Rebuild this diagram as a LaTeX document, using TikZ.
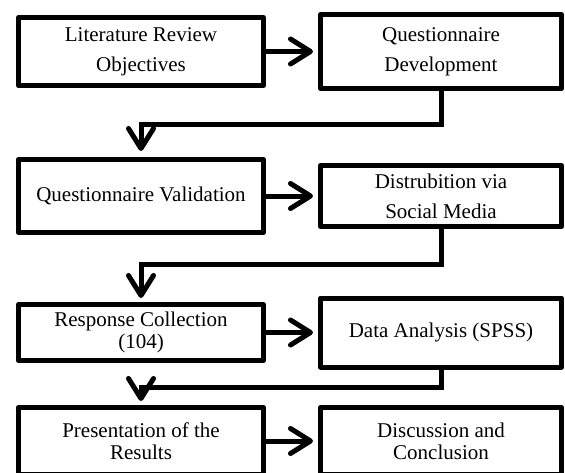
\documentclass[tikz,border=0pt]{standalone}
\usepackage{fontspec}
\setmainfont{Liberation Serif}
\usetikzlibrary{
arrows.meta,
calc,
positioning
}
\tikzset{>={Straight Barb[length=20pt,width=25pt,round]}}

\begin{document}
\begin{tikzpicture}[x=1pt, y=1pt, line width=5pt, node distance=52pt, font=\fontsize{21}{30}\selectfont,
	stage/.style={draw, line join=round, align=center, inner sep=2pt},
	leftstage/.style={stage, minimum width=245pt},
	rightstage/.style={stage, minimum width=241pt},
	tight/.style={font=\fontsize{21}{22}\selectfont}]
		\useasboundingbox (0,0) rectangle (565,-472);
		
		\node[leftstage, minimum height=68pt]                        (litreview) at (141,-51.5) {Literature Review\\Objectives};
		\node[rightstage, minimum height=74pt, right=of litreview]   (qdevelop)  {Questionnaire\\Development};
		\node[leftstage, minimum height=73pt, below=69pt of litreview] (qvalid)  {Questionnaire Validation};
		\node[rightstage, minimum height=61pt, right=of qvalid]      (distrib)   {Distrubition via\\Social Media};
		\node[leftstage, tight, minimum height=56pt, below=67pt of qvalid] (collect) {Response Collection\\(104)};
		\node[rightstage, minimum height=69pt, right=of collect]     (analysis)  {Data Analysis (SPSS)};
		\node[leftstage, tight, minimum height=67pt, below=42pt of collect] (results) {Presentation of the\\Results};
		\node[rightstage, tight, minimum height=67pt, right=of results] (discuss) {Discussion and\\Conclusion};
		
		\coordinate (turn1) at ([yshift=33pt]qvalid.north);
		\coordinate (turn2) at ([yshift=38pt]collect.north);
		\coordinate (turn3) at ([yshift=18pt]results.north);
		
		\draw[->, shorten >=5pt] (litreview) -- (qdevelop);
		\draw[->, shorten >=5pt] (qvalid) -- (distrib);
		\draw[->, shorten >=5pt] (collect) -- (analysis);
		\draw[->, shorten >=5pt] (results) -- (discuss);
		
		\draw[->, shorten >=6pt] (qdevelop.south) |- (turn1) -- (qvalid.north);
		\draw[->, shorten >=4pt] (distrib.south) |- (turn2) -- (collect.north);
		\draw[->, shorten >=4pt] (analysis.south) |- (turn3) -- (results.north);
	\end{tikzpicture}
\end{document}
